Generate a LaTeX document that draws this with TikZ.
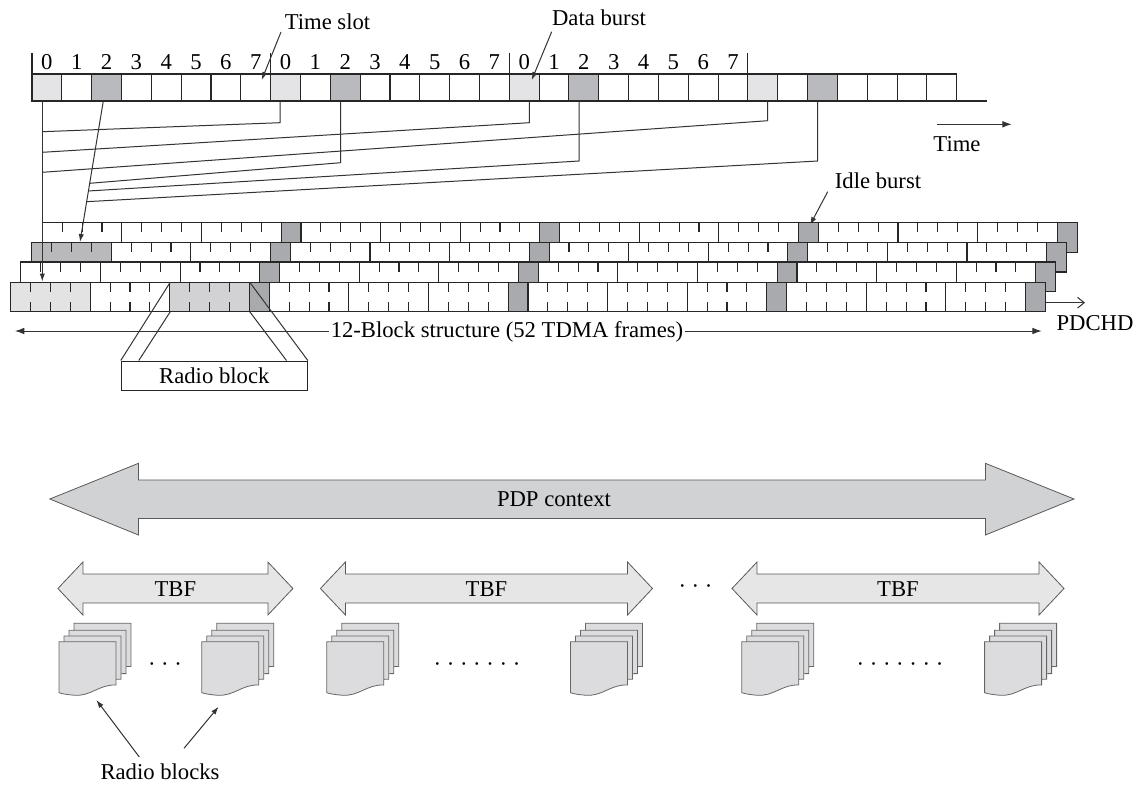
\documentclass[tikz,border=0pt]{standalone}
\usepackage{fontspec}
\setmainfont{Liberation Serif}
\usetikzlibrary{arrows.meta}
\definecolor{cellL}{HTML}{E4E4E6}
\definecolor{cellD}{HTML}{B9BABD}
\definecolor{idleD}{HTML}{A9AAAD}
\definecolor{blkG}{HTML}{B9B9BB}
\definecolor{blkL}{HTML}{E3E3E4}
\definecolor{blkM}{HTML}{D2D2D4}
\definecolor{pdpF}{HTML}{D1D2D4}
\definecolor{tbfF}{HTML}{E6E6E7}
\definecolor{pageF}{HTML}{DCDCDE}
\tikzset{
  lbl/.style={font=\fontsize{17}{20}\selectfont, inner sep=0pt},
  cellbox/.style={draw=black!85, line width=0.8pt},
  conn/.style={draw=black!80, line width=0.75pt},
  tipS/.style={-{Latex[length=6pt,width=4pt]}},
  tipM/.style={-{Latex[length=7pt,width=5pt]}},
  blkbox/.style={draw=black!85, line width=0.8pt},
  tickln/.style={draw=black!85, line width=0.8pt},
  bigarrow/.style={draw=black!65, line width=0.6pt},
  pagefill/.style={draw=black!60, line width=0.6pt, fill=pageF},
  docpage/.pic={\filldraw[pagefill] (0,0) -- (57,0) -- (57,43.3) .. controls (40,42.5) and (32,55) .. (15,53.5) .. controls (8,53) and (3,52) .. (0,51) -- cycle;}
}
\begin{document}
\begin{tikzpicture}[x=0.75pt,y=-0.75pt]
\useasboundingbox (0,0) rectangle (1144,785);

% ---------- top timeline ----------
\foreach \ci in {0,...,30} {
  \pgfmathtruncatemacro\cs{mod(\ci,8)}
  \ifnum\cs=0 \def\fc{cellL}\else\ifnum\cs=2 \def\fc{cellD}\else\def\fc{white}\fi\fi
  \draw[cellbox, fill=\fc] (32+29.83*\ci,74) rectangle ++(29.83,27);
}
\coordinate (tlA) at (956.7,101);
\coordinate (tlB) at (986.7,101);
\draw[cellbox] (tlA) -- (tlB);
\foreach \fr in {0,1,2} \foreach \si in {0,...,7}
  \node[lbl, anchor=base] (d\fr\si) at (32+29.83*8*\fr+29.83*\si+14.9, 69) {\si};
\foreach \fr in {0,...,3} \draw[cellbox] (32+238.64*\fr,53) -- ++(0,21);

\node[lbl, anchor=base] (tslot) at (327.5,29.5) {Time slot};
\coordinate (tslotA) at (281,32);
\coordinate (tslotB) at (261.7,80);
\draw[conn, tipS] (tslotA) -- (tslotB);

\node[lbl, anchor=base] (dburst) at (599,25.5) {Data burst};
\coordinate (dbA) at (551.7,31.7);
\coordinate (dbB) at (531.7,80);
\draw[conn, tipS] (dbA) -- (dbB);

\coordinate (timeA) at (936.7,124.3);
\coordinate (timeB) at (1011.7,124.3);
\draw[conn, tipM] (timeA) -- (timeB);
\node[lbl, anchor=base] (time) at (957,151.5) {Time};

\node[lbl, anchor=base] (idle) at (878,188) {Idle burst};
\coordinate (idA) at (827.7,191.7);
\coordinate (idB) at (810,225);
\draw[conn, tipS] (idA) -- (idB);

% ---------- staircase of 52-frame structures ----------
\foreach \ri/\xo/\yo in {0/42.3/222.7, 1/31.7/242.5, 2/20.9/262.0, 3/10.6/282.3} {
  \foreach \bi in {0,...,11} {
    \pgfmathtruncatemacro\st{int(\bi/3)*13+mod(\bi,3)*4}
    \pgfmathsetmacro\xs{\xo+\st*19.9}
    \def\fc{white}
    \ifnum\ri=1 \ifnum\bi=0 \def\fc{blkG}\fi\fi
    \ifnum\ri=3 \ifnum\bi=0 \def\fc{blkL}\fi\ifnum\bi=2 \def\fc{blkM}\fi\fi
    \draw[blkbox, fill=\fc] (\xs,\yo) rectangle ++(79.6,29.5);
    \foreach \ki in {1,2,3} {
      \draw[tickln] (\xs+\ki*19.9,\yo) -- ++(0,9.5);
      \draw[tickln] (\xs+\ki*19.9,\yo+29.5) -- ++(0,-9.5);
    }
  }
  \foreach \gi in {0,...,3} {
    \pgfmathsetmacro\xs{\xo+(\gi*13+12)*19.9}
    \draw[blkbox, fill=idleD] (\xs,\yo) rectangle ++(19.9,29.5);
  }
}

% ---------- connectors from bursts ----------
\coordinate (s10) at (42.3,101);
\coordinate (s10e) at (42.3,281.5);
\draw[conn, tipS] (s10) -- (s10e);
\coordinate (s12) at (103.3,101);
\coordinate (s12e) at (80,242);
\draw[conn, tipS] (s12) -- (s12e);
\coordinate (s20) at (280,101);   \coordinate (j20) at (42.3,131.7);
\coordinate (s30) at (529.3,101); \coordinate (j30) at (42.3,152.3);
\coordinate (s40) at (767.7,101); \coordinate (j40) at (42.3,172.3);
\coordinate (s22) at (340.7,101); \coordinate (j22) at (89.6,183.3);
\coordinate (s32) at (579,101);   \coordinate (j32) at (88.3,191);
\coordinate (s42) at (817.7,101); \coordinate (j42) at (86.5,201.7);
\draw[conn] (s20) -- (280,122.7) -- (j20);
\draw[conn] (s30) -- (529.3,122.7) -- (j30);
\draw[conn] (s40) -- (767.7,120.7) -- (j40);
\draw[conn] (s22) -- (340.7,162.7) -- (j22);
\draw[conn] (s32) -- (579,161) -- (j32);
\draw[conn] (s42) -- (817.7,161) -- (j42);

% ---------- radio block ----------
\node[lbl, draw=black!85, line width=0.8pt, fill=white, minimum width=139.5pt, minimum height=22.3pt] (rblock) at (214.3,375.9) {Radio block};
\coordinate (rbTL) at (170.2,282.3);
\coordinate (rbBL) at (170.2,311.8);
\coordinate (rbTR) at (249.8,282.3);
\coordinate (rbBR) at (249.8,311.8);
\draw[conn] (rbTL) -- (rblock.north west);
\draw[conn] (rbBL) -- ([xshift=13.5pt]rblock.north west);
\draw[conn] (rbTR) -- (rblock.north east);
\draw[conn] (rbBR) -- ([xshift=-16pt]rblock.north east);

% ---------- 12-block arrow ----------
\coordinate (b12L) at (15,331);
\coordinate (b12R) at (1041.7,331);
\draw[conn, {Latex[length=7pt,width=5pt]}-{Latex[length=7pt,width=5pt]}] (b12L) -- (b12R);
\node[lbl, anchor=base, fill=white, inner xsep=1.5pt, inner ysep=2pt] (b12) at (507,337) {12-Block structure (52 TDMA frames)};

\coordinate (pdA) at (1046,302.7);
\coordinate (pdB) at (1085,302.7);
\draw[conn, -{Straight Barb[length=5pt,width=8pt]}] (pdA) -- (pdB);
\node[lbl, anchor=base] (pdchd) at (1095,330) {PDCHD};

% ---------- PDP context ----------
\filldraw[bigarrow, fill=pdpF] (49.8,499) -- (138.5,463.3) -- (138.5,480) -- (985.4,480) -- (985.4,463.3) -- (1074,499) -- (985.4,535) -- (985.4,518.5) -- (138.5,518.5) -- (138.5,535) -- cycle;
\node[lbl, anchor=base] (pdp) at (554,506) {PDP context};

% ---------- TBFs ----------
\foreach \nm/\la/\ra in {t1/57.9/292.9, t2/320.4/652.5, t3/732/1064} {
  \filldraw[bigarrow, fill=tbfF] (\la,588.5) -- (\la+25,562) -- (\la+25,574) -- (\ra-25,574) -- (\ra-25,562) -- (\ra,588.5) -- (\ra-25,615) -- (\ra-25,603) -- (\la+25,603) -- (\la+25,615) -- cycle;
  \node[lbl, anchor=base] (\nm) at ({(\la+\ra)/2},596) {TBF};
}
\node[lbl] (tdots) at (695.5,589) {· · ·};

% ---------- radio block stacks ----------
\foreach \sx in {59, 201.8, 326.8, 570.4, 741.8, 984.6} {
  \foreach \dx/\dy in {15/-18.5, 10/-11.4, 5/-5.8, 0/0}
    \pic at (\sx+\dx, 641.7+\dy) {docpage};
}
\node[lbl] (sd1) at (165,667) {· · ·};
\node[lbl] (sd2) at (477,667) {· · · · · · ·};
\node[lbl] (sd3) at (900,667) {· · · · · · ·};

\node[lbl, anchor=base] (rbs) at (160,779) {Radio blocks};
\coordinate (rbs1) at (139.3,757);
\coordinate (rbs1e) at (96.4,700);
\coordinate (rbs2) at (184,748.3);
\coordinate (rbs2e) at (218.6,706.7);
\draw[conn, tipS] (rbs1) -- (rbs1e);
\draw[conn, tipS] (rbs2) -- (rbs2e);
\end{tikzpicture}
\end{document}
